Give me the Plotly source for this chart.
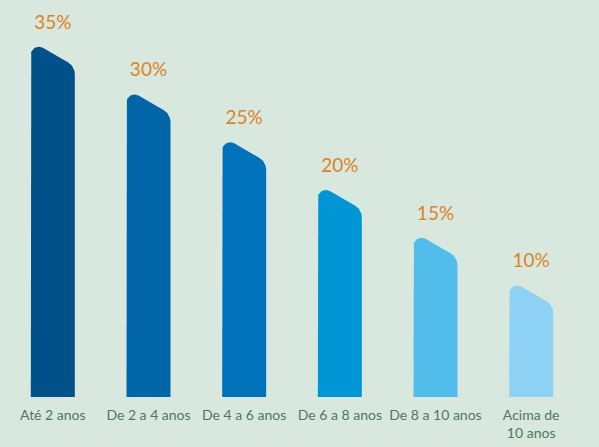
import numpy as np
import plotly.graph_objects as go

categories = ["Até 2 anos", "De 2 a 4 anos", "De 4 a 6 anos",
              "De 6 a 8 anos", "De 8 a 10 anos", "Acima de<br>10 anos"]
values = [35, 30, 25, 20, 15, 10]
labels = ["35%", "30%", "25%", "20%", "15%", "10%"]
bar_colors = ["#00508A", "#0066A8", "#0072BC", "#0096D6", "#52BDEB", "#8DD2F4"]

W, H = 599, 447
MARGIN = dict(l=5, r=20, t=15, b=50)
X_RANGE = [-0.5, 5.5]
Y_RANGE = [0, 40]
FONT = "Lato, Open Sans, sans-serif"

# pixels per data unit, so the bar outline can be shaped in screen space
px_x = (W - MARGIN["l"] - MARGIN["r"]) / (X_RANGE[1] - X_RANGE[0])
px_y = (H - MARGIN["t"] - MARGIN["b"]) / (Y_RANGE[1] - Y_RANGE[0])
TOP_OFFSET = 16  # px from the value line up to the top-left apex


def bar_outline(xc, v, half=22, r1=8, r2=14, theta=np.radians(30)):
    """Bar with rounded top-left corner and a slanted, rounded top."""
    top = v * px_y + TOP_OFFSET
    n = np.array([np.sin(theta), np.cos(theta)])
    c1 = np.array([-half + r1, top - r1])
    p1 = c1 + r1 * n
    p2x = half - r2 + r2 * n[0]
    t = (p2x - p1[0]) / np.cos(theta)
    p2 = p1 + t * np.array([np.cos(theta), -np.sin(theta)])
    c2 = p2 - r2 * n
    a1 = np.linspace(np.pi, np.pi / 2 - theta, 14)
    a2 = np.linspace(np.pi / 2 - theta, 0, 14)
    xs = [-half] + list(c1[0] + r1 * np.cos(a1)) + list(c2[0] + r2 * np.cos(a2)) + [half, -half]
    ys = [0] + list(c1[1] + r1 * np.sin(a1)) + list(c2[1] + r2 * np.sin(a2)) + [0, 0]
    return [xc + x / px_x for x in xs], [y / px_y for y in ys]


fig = go.Figure()

for i, (v, c) in enumerate(zip(values, bar_colors)):
    bx, by = bar_outline(i, v)
    fig.add_trace(go.Scatter(
        x=bx, y=by, mode="lines", fill="toself",
        fillcolor=c, line=dict(width=0, color=c),
        hoverinfo="skip", showlegend=False,
    ))

fig.add_trace(go.Scatter(
    x=list(range(len(values))),
    y=[v + (TOP_OFFSET + 23) / px_y for v in values],
    mode="text", text=labels, textposition="middle center",
    textfont=dict(family=FONT, size=19, color="#D9841F"),
    hoverinfo="skip", showlegend=False, cliponaxis=False,
))

fig.update_layout(
    width=W, height=H,
    margin=MARGIN,
    paper_bgcolor="#D9E8DF",
    plot_bgcolor="rgba(0,0,0,0)",
    xaxis=dict(range=X_RANGE, tickvals=list(range(len(categories))), ticktext=categories,
               showgrid=False, zeroline=False, showline=False,
               ticks="outside", ticklen=5, tickcolor="rgba(0,0,0,0)",
               tickangle=0, automargin=False,
               tickfont=dict(family=FONT, size=14, color="#4B7A5A")),
    yaxis=dict(range=Y_RANGE, visible=False, showgrid=False, zeroline=False),
)

# the page body has a default 8px margin; drop it so the figure fills the window
fig.write_html("out.html", config={"displayModeBar": False},
               post_script="document.body.style.margin='0';")
